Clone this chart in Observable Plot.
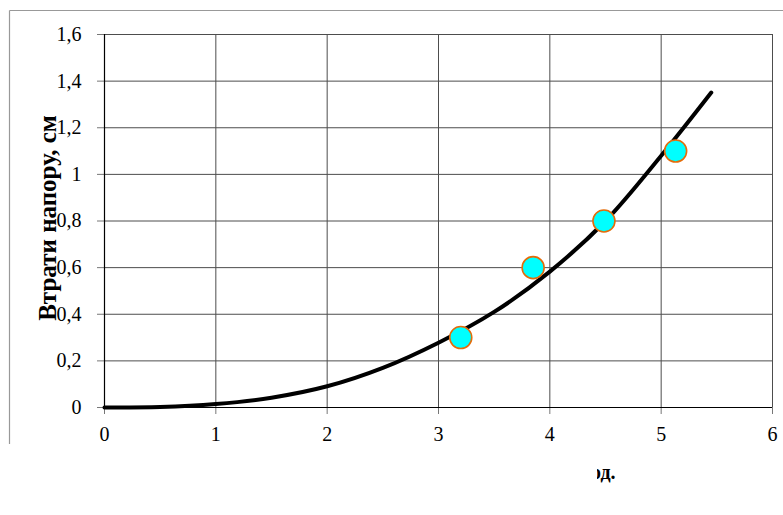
<!DOCTYPE html>
<html>
<head>
<meta charset="utf-8">
<script src="https://cdn.jsdelivr.net/npm/d3@7"></script>
<script src="https://cdn.jsdelivr.net/npm/@observablehq/plot@0.6"></script>
<style>
  html, body { margin: 0; padding: 0; background: #fff; }
  svg text { font-family: "Liberation Serif", "Times New Roman", serif !important; }
</style>
</head>
<body>
<div id="chart"></div>
<script>
// Fitted curve
const curveX = [0, 0.5, 1, 1.5, 2, 2.5, 3, 3.5, 4, 4.5, 5, 5.45];
const curveY = [0, 0.002, 0.015, 0.042, 0.091, 0.17, 0.278, 0.41, 0.583, 0.80, 1.08, 1.351];
// Measured points
const pointX = [3.2, 3.85, 4.486, 5.13];
const pointY = [0.30, 0.60, 0.80, 1.10];
// Ticks
const xTicks = [0, 1, 2, 3, 4, 5, 6];
const xTickLabels = ["0", "1", "2", "3", "4", "5", "6"];
const yTicks = [0, 0.2, 0.4, 0.6, 0.8, 1, 1.2, 1.4, 1.6];
const yTickLabels = ["0", "0,2", "0,4", "0,6", "0,8", "1", "1,2", "1,4", "1,6"];
const yTitle = "Втрати напору, см";
const xTitle = "од.";

const curve = curveX.map((x, i) => ({x, y: curveY[i]}));
const points = pointX.map((x, i) => ({x, y: pointY[i]}));

const font = "Liberation Serif";

const chart = Plot.plot({
  width: 783,
  height: 515,
  marginLeft: 104,
  marginRight: 11,
  marginTop: 34,
  marginBottom: 108,
  style: "background:#fff;font-family:'Liberation Serif',serif;font-size:20px;color:#000;",
  x: {domain: [0, 6]},
  y: {domain: [0, 1.6]},
  marks: [
    Plot.gridX(xTicks, {stroke: "#4d4d4d", strokeOpacity: 1, strokeWidth: 1}),
    Plot.gridY(yTicks, {stroke: "#4d4d4d", strokeOpacity: 1, strokeWidth: 1}),
    Plot.axisX({ticks: xTicks, tickSize: 7, tickPadding: 12, stroke: "#777", fontSize: 20, fill: "#000", label: null,
      tickFormat: d => xTickLabels[xTicks.indexOf(d)]}),
    Plot.axisY({ticks: yTicks, tickSize: 7, tickPadding: 16, stroke: "#777", fontSize: 20, fill: "#000", label: null,
      tickFormat: d => yTickLabels[yTicks.findIndex(t => Math.abs(t - d) < 1e-9)]}),
    Plot.ruleX([0], {stroke: "#000", strokeWidth: 1.2}),
    Plot.ruleY([0], {stroke: "#000", strokeWidth: 1.2}),
    Plot.line(curve, {x: "x", y: "y", curve: "catmull-rom", stroke: "#000", strokeWidth: 4, strokeLinecap: "round"}),
    Plot.dot(points, {x: "x", y: "y", r: 11, fill: "#00FFFF", stroke: "#E46C0A", strokeWidth: 1.6}),
    Plot.text([yTitle], {frameAnchor: "left", textAnchor: "middle", dx: -57, dy: -3, rotate: -90, fontSize: 25, fontWeight: "bold", fill: "#000", fontFamily: font})
  ]
});

const svg = d3.select(chart);
// x-axis title, partly hidden as in the picture
svg.append("text").attr("x", 591).attr("y", 479).attr("font-size", 20).attr("font-weight", "bold")
  .attr("fill", "#000").attr("text-anchor", "start").attr("font-family", font).text(xTitle);
svg.append("rect").attr("x", 580).attr("y", 460).attr("width", 17).attr("height", 28).attr("fill", "#fff");
// outer chart-area border (partial, as in the picture)
svg.append("line").attr("x1", 9.5).attr("x2", 783).attr("y1", 10.5).attr("y2", 10.5).attr("stroke", "#999").attr("stroke-width", 1.2);
svg.append("line").attr("x1", 9.5).attr("x2", 9.5).attr("y1", 10.5).attr("y2", 444).attr("stroke", "#999").attr("stroke-width", 1.2);

document.getElementById("chart").appendChild(chart);
</script>
</body>
</html>
